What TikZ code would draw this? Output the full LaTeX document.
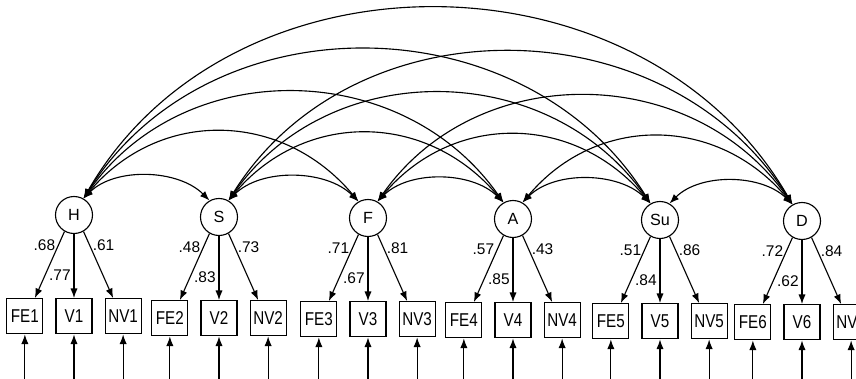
\documentclass[tikz,border=0pt]{standalone}
\usepackage{fontspec}
\setmainfont{Liberation Sans}
\newfontfamily\boxfont{Liberation Sans}[FakeStretch=0.82]
\usepackage{tikz}
\usetikzlibrary{
  arrows.meta,
  positioning
}
\tikzset{
  latent/.style={draw,circle,minimum size=9.25mm,inner sep=0pt,line width=0.8pt,font=\fontsize{11.5}{13}\selectfont},
  indicator/.style={draw,rectangle,minimum width=9mm,minimum height=8.8mm,inner sep=0pt,line width=0.8pt,font=\boxfont\fontsize{13.2}{14}\selectfont},
  coef/.style={inner sep=2pt,font=\fontsize{11}{13}\selectfont},
  loading/.style={-{Latex[length=2.4mm,width=1.8mm]},line width=0.8pt},
  errarrow/.style={-{Latex[length=2.4mm,width=1.8mm]},line width=0.8pt},
  covar/.style={{Latex[length=2.4mm,width=1.8mm]}-{Latex[length=2.4mm,width=1.8mm]},line width=0.8pt},
  cov1/.style={out=45,in=135,looseness=0.9},
  cov2/.style={out=50,in=130,looseness=1.1},
  cov3/.style={out=55,in=125,looseness=1.07},
  cov4/.style={out=58,in=122,looseness=1.07},
  cov5/.style={out=60,in=120,looseness=1.07}
}
\begin{document}
\begin{tikzpicture}[x=0.025cm,y=0.025cm,node distance=3mm]
\useasboundingbox (0,0) rectangle (856,-379);
% factors
\node[latent] (H) at (74,-215) {H};
\node[latent] (S) at (219,-217) {S};
\node[latent] (F) at (368,-218) {F};
\node[latent] (A) at (513,-219) {A};
\node[latent] (Su) at (660,-220) {Su};
\node[latent] (D) at (802,-221) {D};
% observed measures
\node[indicator, below=16mm of H] (V1) {V1};
\node[indicator, left=of V1] (FE1) {FE1};
\node[indicator, right=of V1] (NV1) {NV1};
\node[indicator, below=16mm of S] (V2) {V2};
\node[indicator, left=of V2] (FE2) {FE2};
\node[indicator, right=of V2] (NV2) {NV2};
\node[indicator, below=16mm of F] (V3) {V3};
\node[indicator, left=of V3] (FE3) {FE3};
\node[indicator, right=of V3] (NV3) {NV3};
\node[indicator, below=16mm of A] (V4) {V4};
\node[indicator, left=of V4] (FE4) {FE4};
\node[indicator, right=of V4] (NV4) {NV4};
\node[indicator, below=16mm of Su] (V5) {V5};
\node[indicator, left=of V5] (FE5) {FE5};
\node[indicator, right=of V5] (NV5) {NV5};
\node[indicator, below=16mm of D] (V6) {V6};
\node[indicator, left=of V6] (FE6) {FE6};
\node[indicator, right=of V6] (NV6) {NV6};
% loadings
\draw[loading] (H.240) -- node[coef,left,pos=0.2] {.68} ([xshift=2.5mm]FE1.north);
\draw[loading] (H) -- node[coef,left,pos=0.65] {.77} (V1);
\draw[loading] (H.300) -- node[coef,right,pos=0.2] {.61} ([xshift=-2.5mm]NV1.north);
\draw[loading] (S.240) -- node[coef,left,pos=0.2] {.48} ([xshift=2.5mm]FE2.north);
\draw[loading] (S) -- node[coef,left,pos=0.65] {.83} (V2);
\draw[loading] (S.300) -- node[coef,right,pos=0.2] {.73} ([xshift=-2.5mm]NV2.north);
\draw[loading] (F.240) -- node[coef,left,pos=0.2] {.71} ([xshift=2.5mm]FE3.north);
\draw[loading] (F) -- node[coef,left,pos=0.65] {.67} (V3);
\draw[loading] (F.300) -- node[coef,right,pos=0.2] {.81} ([xshift=-2.5mm]NV3.north);
\draw[loading] (A.240) -- node[coef,left,pos=0.2] {.57} ([xshift=2.5mm]FE4.north);
\draw[loading] (A) -- node[coef,left,pos=0.65] {.85} (V4);
\draw[loading] (A.300) -- node[coef,right,pos=0.2] {.43} ([xshift=-2.5mm]NV4.north);
\draw[loading] (Su.240) -- node[coef,left,pos=0.2] {.51} ([xshift=2.5mm]FE5.north);
\draw[loading] (Su) -- node[coef,left,pos=0.65] {.84} (V5);
\draw[loading] (Su.300) -- node[coef,right,pos=0.2] {.86} ([xshift=-2.5mm]NV5.north);
\draw[loading] (D.240) -- node[coef,left,pos=0.2] {.72} ([xshift=2.5mm]FE6.north);
\draw[loading] (D) -- node[coef,left,pos=0.65] {.62} (V6);
\draw[loading] (D.300) -- node[coef,right,pos=0.2] {.84} ([xshift=-2.5mm]NV6.north);
% error terms
\draw[errarrow] ([yshift=-12mm]FE1.south) -- (FE1.south);
\draw[errarrow] ([yshift=-12mm]V1.south) -- (V1.south);
\draw[errarrow] ([yshift=-12mm]NV1.south) -- (NV1.south);
\draw[errarrow] ([yshift=-12mm]FE2.south) -- (FE2.south);
\draw[errarrow] ([yshift=-12mm]V2.south) -- (V2.south);
\draw[errarrow] ([yshift=-12mm]NV2.south) -- (NV2.south);
\draw[errarrow] ([yshift=-12mm]FE3.south) -- (FE3.south);
\draw[errarrow] ([yshift=-12mm]V3.south) -- (V3.south);
\draw[errarrow] ([yshift=-12mm]NV3.south) -- (NV3.south);
\draw[errarrow] ([yshift=-12mm]FE4.south) -- (FE4.south);
\draw[errarrow] ([yshift=-12mm]V4.south) -- (V4.south);
\draw[errarrow] ([yshift=-12mm]NV4.south) -- (NV4.south);
\draw[errarrow] ([yshift=-12mm]FE5.south) -- (FE5.south);
\draw[errarrow] ([yshift=-12mm]V5.south) -- (V5.south);
\draw[errarrow] ([yshift=-12mm]NV5.south) -- (NV5.south);
\draw[errarrow] ([yshift=-12mm]FE6.south) -- (FE6.south);
\draw[errarrow] ([yshift=-12mm]V6.south) -- (V6.south);
\draw[errarrow] ([yshift=-12mm]NV6.south) -- (NV6.south);
% correlations between factors
\draw[covar] (H.60) to[cov1] (S.120);
\draw[covar] (S.60) to[cov1] (F.120);
\draw[covar] (F.60) to[cov1] (A.120);
\draw[covar] (A.60) to[cov1] (Su.120);
\draw[covar] (Su.60) to[cov1] (D.120);
\draw[covar] (H.60) to[cov2] (F.120);
\draw[covar] (S.60) to[cov2] (A.120);
\draw[covar] (F.60) to[cov2] (Su.120);
\draw[covar] (A.60) to[cov2] (D.120);
\draw[covar] (H.60) to[cov3] (A.120);
\draw[covar] (S.60) to[cov3] (Su.120);
\draw[covar] (F.60) to[cov3] (D.120);
\draw[covar] (H.60) to[cov4] (Su.120);
\draw[covar] (S.60) to[cov4] (D.120);
\draw[covar] (H.60) to[cov5] (D.120);
\end{tikzpicture}
\end{document}
